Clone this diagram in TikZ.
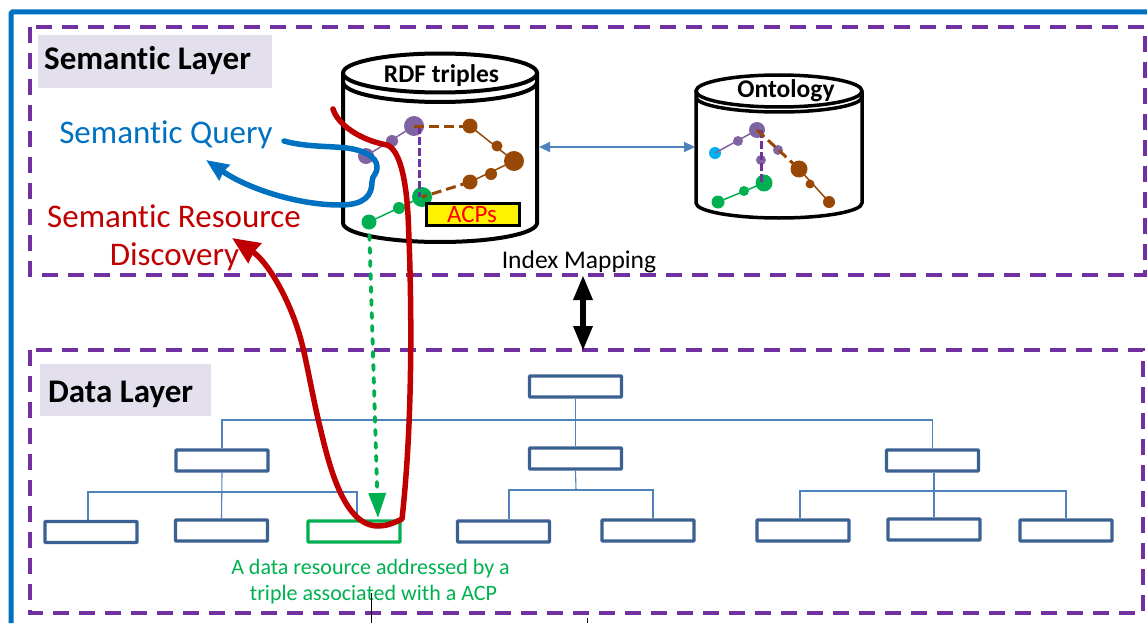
\documentclass[tikz,border=0pt]{standalone}
\usepackage{fontspec}
\setmainfont{Carlito}[RawFeature={-liga;-clig}]
\usetikzlibrary{arrows.meta}
\definecolor{pur}{HTML}{7030A0}
\definecolor{dotpur}{HTML}{8064A2}
\definecolor{brn}{HTML}{974706}
\definecolor{grn}{HTML}{00B050}
\definecolor{blu}{HTML}{0070C0}
\definecolor{lineblu}{HTML}{4F81BD}
\definecolor{boxblu}{HTML}{3B6092}
\definecolor{red2}{HTML}{C00000}
\definecolor{lab}{HTML}{E4DFEC}
\definecolor{cyn}{HTML}{00B0F0}
\tikzset{
  layer/.style={draw=pur,line width=4.5pt,dash pattern=on 16pt off 10pt},
  dot/.style={circle,inner sep=0pt,minimum size=#1,draw=none},
  pd/.style={dot=#1,fill=dotpur},
  bd/.style={dot=#1,fill=brn},
  gd/.style={dot=#1,fill=grn},
  res/.style={draw=boxblu,line width=3.4pt,minimum width=92pt,minimum height=21pt,inner sep=0pt,rounded corners=0.8pt},
  resg/.style={res,draw=grn},
  tree/.style={draw=lineblu,line width=1.1pt},
  cyl/.style={draw=black,line width=4pt,fill=white},
  plink/.style={draw=dotpur,line width=1.5pt},
  blink/.style={draw=brn,line width=1.5pt},
  glink/.style={draw=grn,line width=1.5pt},
  pdash/.style={draw=pur,line width=3pt,dash pattern=on 8pt off 3pt},
  bdash/.style={draw=brn,line width=3pt,dash pattern=on 10pt off 5pt},
  big/.style={font=\fontsize{33}{36}\selectfont,anchor=base,inner sep=0pt},
  lbl/.style={font=\fontsize{33}{36}\selectfont\bfseries,anchor=base west,inner sep=0pt},
  cylt/.style={font=\fontsize{25.5}{28}\selectfont\bfseries,anchor=base,inner sep=0pt},
  grt/.style={font=\fontsize{22}{26}\selectfont,text=grn,anchor=base,inner sep=0pt},
}
\begin{document}
\begin{tikzpicture}[x=1pt,y=-1pt]
\useasboundingbox (0,0) rectangle (1147,623);
% outer frame
\coordinate (fa) at (11,623);
\coordinate (fb) at (11,12);
\coordinate (fc) at (1147,12);
\draw[blu,line width=5pt,rounded corners=1.5pt] (fa) -- (fb) -- (fc);
% layers
\draw[layer] (30,27) rectangle (1145,275);
\draw[layer] (30,350) rectangle (1143,613);
\fill[lab] (38,35) rectangle (272,88);
\fill[lab] (40,364) rectangle (211,416);
\node[lbl] (sl) at (44,69.5) {Semantic Layer};
\node[lbl] (dl) at (48,402) {Data Layer};
% RDF cylinder
\draw[cyl] (343,73) -- (343,223) arc[start angle=180,end angle=0,x radius=97,y radius=19] -- (537,73);
\draw[black,line width=4pt] (343,82) arc[start angle=180,end angle=0,x radius=97,y radius=20];
\draw[cyl] (440,73) ellipse[x radius=97,y radius=19.5];
\node[cylt] (rdf) at (441.5,83) {RDF triples};
% Ontology cylinder
\draw[cyl,line width=3.5pt] (696,92) -- (696,203) arc[start angle=180,end angle=0,x radius=83,y radius=15] -- (862,92);
\draw[black,line width=3.5pt] (696,97) arc[start angle=180,end angle=0,x radius=83,y radius=15];
\draw[cyl,line width=3.5pt] (779,91) ellipse[x radius=83,y radius=16];
\node[cylt] (ont) at (786,98) {Ontology};
% RDF graph
\node[pd=20pt] (r1) at (414,126) {};
\node[pd=12pt] (r2) at (392,141) {};
\node[pd=16pt] (r3) at (366,156) {};
\node[bd=15pt] (r4) at (470,126) {};
\node[bd=11pt] (r5) at (497,146) {};
\node[bd=20pt] (r6) at (514,161) {};
\node[bd=12pt] (r7) at (491,174) {};
\node[bd=15pt] (r8) at (470,182) {};
\node[gd=20pt] (r9) at (422,197) {};
\node[gd=12pt] (r10) at (399,208) {};
\node[gd=15pt] (r11) at (369,222) {};
\draw[plink] (r1.center) -- (r3.center);
\draw[blink] (r4.center) -- (r6.center) -- (r8.center);
\draw[glink] (r9.center) -- (r11.center);
\coordinate (rp) at (419,126);
\coordinate (rq) at (419,197);
\draw[pdash] (rp) -- (rq);
\draw[bdash] (r1.center) -- (r4.center);
\draw[bdash] (r8.center) -- (r9.center);
\node[draw=black,fill=yellow,line width=3pt,minimum width=93pt,minimum height=22pt,inner sep=0pt] (acp) at (472.5,214.5) {};
\node[font=\fontsize{25}{28}\selectfont,text=red,anchor=base,inner sep=0pt] (acpt) at (472,222.5) {ACPs};
% Ontology graph
\node[pd=16pt] (o1) at (757,130) {};
\node[pd=10pt] (o2) at (738,141) {};
\node[dot=12pt,fill=cyn] (o3) at (715,153) {};
\node[pd=10pt] (o4) at (761,160) {};
\node[pd=10pt] (o5) at (778,150) {};
\node[bd=17pt] (o6) at (799,169) {};
\node[bd=9pt] (o7) at (810,184) {};
\node[bd=12pt] (o8) at (829,202) {};
\node[gd=17pt] (o9) at (764,183) {};
\node[gd=10pt] (o10) at (744,191) {};
\node[gd=13pt] (o11) at (718,202) {};
\draw[plink] (o1.center) -- (o3.center);
\draw[blink] (o6.center) -- (o8.center);
\draw[glink] (o9.center) -- (o11.center);
\coordinate (op) at (761,130);
\coordinate (oq) at (761,183);
\draw[pdash] (op) -- (oq);
\draw[bdash] (o1.center) -- (o6.center);
% between cylinders
\coordinate (cr) at (539,147);
\coordinate (cl) at (695,147);
\draw[lineblu,line width=2.2pt,{Stealth[length=11pt,width=10pt,inset=0pt]}-{Stealth[length=11pt,width=10pt,inset=0pt]}] (cr) -- (cl);
% labels
\node[big,text=blu] (sq) at (166,143.5) {Semantic Query};
\node[big,text=red2] (sr) at (174,227) {Semantic Resource};
\node[big,text=red2] (sd) at (174.5,265.5) {Discovery};
\node[font=\fontsize{25.5}{28}\selectfont,anchor=base,inner sep=0pt] (im) at (579,268) {Index Mapping};
% index arrow
\coordinate (ia) at (583,275);
\coordinate (ib) at (583,351);
\draw[black,line width=6pt,{Stealth[length=25pt,width=18pt,inset=0pt]}-{Stealth[length=25pt,width=18pt,inset=0pt]}] (ia) -- (ib);
% data layer tree
\node[res] (root) at (575.5,386.5) {};
\node[res] (a) at (222,460.5) {};
\node[res] (b) at (575.5,458.5) {};
\node[res] (c) at (932.5,460.5) {};
\node[res] (a1) at (91,532) {};
\node[res] (a2) at (221.5,530.5) {};
\node[resg] (a3) at (354,531.5) {};
\node[res] (b1) at (503.5,531.5) {};
\node[res] (b2) at (648,530.5) {};
\node[res] (c1) at (803,530.5) {};
\node[res] (c2) at (934,529.5) {};
\node[res] (c3) at (1066,530.5) {};
\coordinate (j0) at (576,420);
\coordinate (jb) at (576,490);
\coordinate (jc) at (934,491);
\draw[tree] (root.south) -- (b.north);
\draw[tree] (a.north) -- (a.north |- j0) -- (c.north |- j0) -- (c.north);
\draw[tree] (a.south) -- (a2.north);
\draw[tree] (a1.north -| 88,0) -- (88,492) -- (357,492) -- (a3.north -| 357,0);
\draw[tree] (b.south) -- (jb);
\draw[tree] (b1.north -| 509,0) -- (509,490) -- (653,490) -- (b2.north -| 653,0);
\draw[tree] (c.south -| jc) -- (c2.north -| jc);
\draw[tree] (c1.north -| 800,0) -- (800,491) -- (1066,491) -- (c3.north);
\node[grt] (t1) at (370.5,574) {A data resource addressed by a};
\node[grt] (t2) at (373.5,600) {triple associated with a ACP};
% green arrow
\coordinate (gt) at (378,518);
\draw[grn,line width=3.8pt,line cap=round,dash pattern=on 5pt off 8pt,-{Stealth[length=25pt,width=17pt,inset=0pt]}] (r11.center) -- (gt);
% blue query curve
\coordinate (qs) at (284,141);
\coordinate (qe) at (206,160);
\draw[blu,line width=5.5pt,line cap=round,-{Stealth[length=22pt,width=18pt,inset=1pt]}] (qs) .. controls (305,147) and (330,146) .. (347,148) .. controls (362,150) and (377,156) .. (377,167) .. controls (377,175) and (372,175) .. (372,182) .. controls (372,195) and (365,205) .. (340,205) .. controls (300,205) and (250,190) .. (qe);
% red curve
\coordinate (ds) at (333,109);
\coordinate (de) at (232,238);
\draw[red2,line width=5.5pt,line cap=round,line join=round,-{Stealth[length=27pt,width=23pt,inset=1pt]}] (ds) .. controls (338,125) and (360,140) .. (387,145) .. controls (400,150) and (406,180) .. (408,215) .. controls (412,300) and (413,420) .. (402,519) .. controls (392,524) and (385,526) .. (378,526) .. controls (345,526) and (330,470) .. (320,427) .. controls (312,395) and (305,350) .. (298,330) .. controls (288,298) and (268,262) .. (de);
% stray black lines
\coordinate (k1) at (371,593);
\coordinate (k2) at (371,623);
\coordinate (k3) at (587,618);
\coordinate (k4) at (587,623);
\draw[black,line width=1pt] (k1) -- (k2);
\draw[black,line width=1pt] (k3) -- (k4);
\end{tikzpicture}
\end{document}
